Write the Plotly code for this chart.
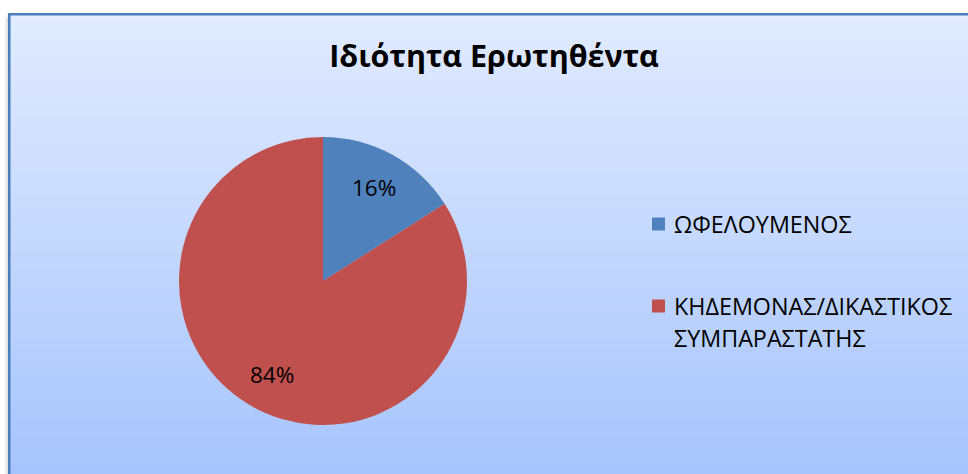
import plotly.graph_objects as go
import math

# ---- data ----
categories = ["ΩΦΕΛΟΥΜΕΝΟΣ", "ΚΗΔΕΜΟΝΑΣ/ΔΙΚΑΣΤΙΚΟΣ<br>ΣΥΜΠΑΡΑΣΤΑΤΗΣ"]
values = [16, 84]
title_text = "Ιδιότητα Ερωτηθέντα"

# ---- style ----
OFF = 0                      # page body margin (removed via post_script)
W, H = 968 - OFF, 474 - OFF  # figure size
colors = ["#4f81bd", "#c0504d"]
FONT = "Open Sans"

def px(x):
    return (x - OFF) / W

def py(y):
    return 1 - (y - OFF) / H

fig = go.Figure()

# pie placed in pixel box: center (323,281), radius 144
cx, cy, r = 323, 281, 144
fig.add_trace(go.Pie(
    labels=categories,
    values=values,
    sort=False,
    direction="clockwise",
    rotation=0,
    marker=dict(colors=colors, line=dict(width=0)),
    textinfo="none",
    hoverinfo="label+percent",
    showlegend=False,
    domain=dict(x=[px(cx - r), px(cx + r)], y=[py(cy + r), py(cy - r)]),
))

shapes = []
# faint shadow outside the frame
shapes.append(dict(type="rect", xref="paper", yref="paper", layer="below",
                   x0=px(5), x1=px(9), y0=py(474), y1=py(17),
                   fillcolor="rgba(215,215,215,0.5)", line=dict(width=0)))
# background gradient frame (bands)
top_c = (226, 235, 255)
bot_c = (166, 196, 252)
y0f = 14
nb = 92
band_h = (474 - y0f) / nb
for i in range(nb):
    t = (i + 0.5) / nb
    c = tuple(round(top_c[k] + (bot_c[k] - top_c[k]) * t) for k in range(3))
    shapes.append(dict(type="rect", xref="paper", yref="paper", layer="below",
                       x0=px(9), x1=1.01,
                       y0=py(y0f + (i + 1) * band_h + 0.5), y1=py(y0f + i * band_h),
                       fillcolor="rgb(%d,%d,%d)" % c, line=dict(width=0)))
# border
shapes.append(dict(type="rect", xref="paper", yref="paper", layer="above",
                   x0=px(9.2), x1=px(968 + 10), y0=py(474 + 10), y1=py(14.2),
                   line=dict(color="#4a7ebb", width=2.6), fillcolor="rgba(0,0,0,0)"))

annotations = []
# percent labels computed from values, at 0.74 r along slice mid-angle
total = sum(values)
cum = 0
for v in values:
    mid = (cum + v / 2) / total * 2 * math.pi
    cum += v
    lx = cx + 0.74 * r * math.sin(mid)
    ly = cy - 0.74 * r * math.cos(mid)
    annotations.append(dict(x=px(lx), y=py(ly), xref="paper", yref="paper",
                            text="%d%%" % round(v / total * 100), showarrow=False,
                            font=dict(family=FONT, size=22.5, color="#000000"),
                            xanchor="center", yanchor="middle"))

# manual legend
leg_y = [224, 306]
line_gap = 32
for i, (lab, col) in enumerate(zip(categories, colors)):
    yc = leg_y[i]
    shapes.append(dict(type="rect", xref="paper", yref="paper", layer="above",
                       x0=px(652), x1=px(665), y0=py(yc + 6.5), y1=py(yc - 6.5),
                       fillcolor=col, line=dict(width=0)))
    for j, part in enumerate(lab.split("<br>")):
        annotations.append(dict(x=px(672), y=py(yc + j * line_gap), xref="paper", yref="paper",
                                text=part, showarrow=False,
                                font=dict(family=FONT, size=23.3, color="#000000"),
                                xanchor="left", yanchor="middle"))

fig.update_layout(
    width=W, height=H,
    margin=dict(l=0, r=0, t=0, b=0),
    paper_bgcolor="white",
    plot_bgcolor="white",
    title=dict(text="<b>%s</b>" % title_text, x=px(494), xanchor="center",
               y=py(56), yanchor="middle",
               font=dict(family=FONT, size=30.5, color="#000000")),
    shapes=shapes,
    annotations=annotations,
    showlegend=False,
)

fig.write_html(
    "out.html",
    config={"displayModeBar": False},
    post_script="document.body.style.margin='0';document.body.style.overflow='hidden';",
)
